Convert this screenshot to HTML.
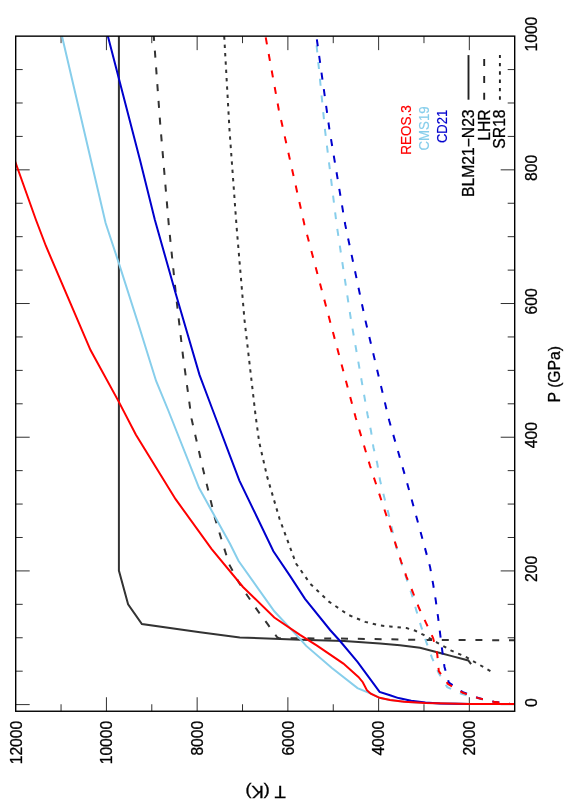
<!DOCTYPE html>
<html><head><meta charset="utf-8"><title>T-P chart</title>
<style>
html,body{margin:0;padding:0;background:#fff;}
body{width:565px;height:807px;overflow:hidden;font-family:"Liberation Sans",sans-serif;}
svg{display:block;will-change:transform;}
text{font-family:"Liberation Sans",sans-serif;font-size:15.7px;fill:#000;stroke:#000;stroke-width:0.3px;}
</style></head><body>
<svg width="565" height="807" viewBox="0 0 565 807">
<rect x="0" y="0" width="565" height="807" fill="#fff"/>

<path d="M469.34 711.25 v-14.00 M469.34 36.15 v14.00 M423.97 711.25 v-7.00 M423.97 36.15 v7.00 M378.61 711.25 v-14.00 M378.61 36.15 v14.00 M333.25 711.25 v-7.00 M333.25 36.15 v7.00 M287.88 711.25 v-14.00 M287.88 36.15 v14.00 M242.52 711.25 v-7.00 M242.52 36.15 v7.00 M197.15 711.25 v-14.00 M197.15 36.15 v14.00 M151.79 711.25 v-7.00 M151.79 36.15 v7.00 M106.43 711.25 v-14.00 M106.43 36.15 v14.00 M61.06 711.25 v-7.00 M61.06 36.15 v7.00 M514.70 704.60 h-14.00 M15.70 704.60 h14.00 M514.70 671.18 h-7.00 M15.70 671.18 h7.00 M514.70 637.75 h-7.00 M15.70 637.75 h7.00 M514.70 604.33 h-7.00 M15.70 604.33 h7.00 M514.70 570.91 h-14.00 M15.70 570.91 h14.00 M514.70 537.49 h-7.00 M15.70 537.49 h7.00 M514.70 504.06 h-7.00 M15.70 504.06 h7.00 M514.70 470.64 h-7.00 M15.70 470.64 h7.00 M514.70 437.22 h-14.00 M15.70 437.22 h14.00 M514.70 403.80 h-7.00 M15.70 403.80 h7.00 M514.70 370.38 h-7.00 M15.70 370.38 h7.00 M514.70 336.95 h-7.00 M15.70 336.95 h7.00 M514.70 303.53 h-14.00 M15.70 303.53 h14.00 M514.70 270.11 h-7.00 M15.70 270.11 h7.00 M514.70 236.68 h-7.00 M15.70 236.68 h7.00 M514.70 203.26 h-7.00 M15.70 203.26 h7.00 M514.70 169.84 h-14.00 M15.70 169.84 h14.00 M514.70 136.42 h-7.00 M15.70 136.42 h7.00 M514.70 102.99 h-7.00 M15.70 102.99 h7.00 M514.70 69.57 h-7.00 M15.70 69.57 h7.00" stroke="#1a1a1a" stroke-width="0.9" fill="none"/>
<defs><clipPath id="c"><rect x="15.7" y="36.1" width="499.0" height="675.1"/></clipPath></defs>
<g clip-path="url(#c)">
<path d="M471.1 664.2 L468.3 660.5 L450.0 655.6 L442.0 653.5 L420.0 647.8 L400.0 645.2 L380.0 643.4 L344.0 640.9 L300.0 639.7 L239.8 637.5 L200.0 632.3 L141.9 624.1 L128.1 604.2 L118.9 570.6 L118.9 30.0" stroke="#333333" stroke-width="2.0" fill="none" stroke-linejoin="miter" stroke-miterlimit="3"/>
<path d="M516.0 640.2 L430.0 640.0 L340.0 638.5 L290.0 638.3 L279.0 638.3 L277.0 637.0 L267.3 623.7 L257.5 610.4 L247.8 596.3 L238.1 581.2 L229.2 564.4 L215.2 519.0 L203.0 469.0 L191.6 419.0 L183.0 356.0 L175.9 294.3 L168.8 225.0 L160.3 125.0 L153.8 36.2 L153.4 30.0" stroke="#333333" stroke-width="2.0" fill="none" stroke-dasharray="7 9.8" stroke-linejoin="miter" stroke-miterlimit="3"/>
<path d="M490.4 671.2 L466.7 657.3 L450.8 650.3 L436.6 642.3 L424.2 635.2 L415.4 630.8 L406.5 628.1 L390.0 626.4 L380.0 625.5 L365.2 621.9 L348.4 614.9 L328.9 601.6 L310.4 583.9 L296.0 563.5 L279.6 519.0 L267.2 476.9 L259.2 442.2 L255.5 415.0 L244.5 320.0 L236.6 227.0 L229.5 130.0 L224.2 36.2 L223.9 30.0" stroke="#333333" stroke-width="2.0" fill="none" stroke-dasharray="3.4 4.95" stroke-linejoin="miter" stroke-miterlimit="3"/>
<path d="M516.0 704.1 L470.0 704.1 L425.4 703.1 L404.2 701.8 L390.0 700.0 L379.6 697.9 L370.8 693.6 L357.5 688.1 L331.9 668.1 L306.2 645.9 L300.0 638.8 L274.3 611.3 L238.6 561.0 L230.0 543.8 L199.1 488.0 L168.1 410.0 L156.1 381.0 L139.5 327.8 L118.5 262.1 L105.6 223.0 L62.0 36.2 L60.5 30.0" stroke="#87ceeb" stroke-width="2.0" fill="none" stroke-linejoin="miter" stroke-miterlimit="3"/>
<path d="M516.0 704.0 L510.0 703.9 L495.3 702.2 L478.3 698.4 L461.5 693.8 L447.3 687.1 L438.8 673.4 L432.0 657.8 L426.4 642.3 L421.1 626.4 L416.3 610.4 L411.5 593.6 L406.2 577.7 L401.0 562.0 L395.7 545.0 L392.0 528.9 L388.3 512.8 L384.1 496.7 L380.1 480.6 L377.2 463.3 L373.4 447.2 L371.0 431.0 L367.6 415.0 L351.0 320.0 L336.7 225.0 L325.0 130.0 L315.7 36.2 L315.2 30.0" stroke="#87ceeb" stroke-width="2.0" fill="none" stroke-dasharray="7 9.8" stroke-linejoin="miter" stroke-miterlimit="3"/>
<path d="M516.0 704.1 L470.0 704.1 L440.0 703.5 L425.4 702.4 L411.2 700.7 L398.5 698.1 L390.0 695.3 L379.6 691.9 L357.5 661.9 L339.6 640.5 L330.1 630.0 L305.0 598.9 L290.0 575.9 L273.4 551.2 L239.4 480.6 L230.0 455.8 L212.7 410.0 L199.5 374.9 L175.9 294.3 L154.9 220.0 L140.0 160.1 L107.9 36.2 L106.4 30.0" stroke="#0000cd" stroke-width="2.0" fill="none" stroke-linejoin="miter" stroke-miterlimit="3"/>
<path d="M516.0 704.0 L510.0 703.9 L495.3 702.1 L478.3 698.0 L462.9 692.2 L448.8 682.6 L444.5 667.0 L442.3 651.2 L440.2 634.3 L438.1 617.5 L435.8 600.7 L433.1 583.9 L430.1 567.1 L421.8 536.4 L406.0 479.0 L389.2 420.6 L365.3 320.0 L345.3 225.0 L329.5 130.0 L316.4 36.2 L315.6 30.0" stroke="#0000cd" stroke-width="2.0" fill="none" stroke-dasharray="7 9.8" stroke-linejoin="miter" stroke-miterlimit="3"/>
<path d="M516.0 704.1 L470.0 704.1 L425.4 703.1 L404.2 701.7 L390.0 699.9 L379.6 697.8 L370.8 693.7 L366.9 690.2 L362.8 682.2 L358.4 676.9 L343.4 663.6 L317.0 645.6 L300.0 634.8 L274.3 617.5 L243.0 587.0 L211.5 548.8 L175.6 499.2 L135.9 434.8 L119.0 402.1 L90.5 350.1 L45.9 246.0 L36.0 220.0 L15.7 163.1 L10.0 147.0" stroke="#ff0000" stroke-width="2.0" fill="none" stroke-linejoin="miter" stroke-miterlimit="3"/>
<path d="M516.0 704.0 L510.0 703.9 L495.3 702.1 L478.3 698.1 L462.8 692.8 L448.0 684.0 L438.8 671.2 L437.3 654.5 L433.1 638.0 L426.0 622.8 L418.9 607.8 L412.7 591.9 L406.5 576.8 L401.2 561.8 L390.8 528.9 L370.0 465.7 L355.8 418.0 L329.7 320.0 L304.5 225.0 L278.7 109.3 L265.5 36.2 L264.5 30.0" stroke="#ff0000" stroke-width="2.0" fill="none" stroke-dasharray="7 9.8" stroke-linejoin="miter" stroke-miterlimit="3"/>
</g>
<rect x="15.70" y="36.15" width="499.00" height="675.10" fill="none" stroke="#000" stroke-width="1.4"/>
<text transform="translate(475.14 720.70) rotate(-90)" text-anchor="end">2000</text>
<text transform="translate(384.41 720.70) rotate(-90)" text-anchor="end">4000</text>
<text transform="translate(293.68 720.70) rotate(-90)" text-anchor="end">6000</text>
<text transform="translate(202.95 720.70) rotate(-90)" text-anchor="end">8000</text>
<text transform="translate(112.23 720.70) rotate(-90)" text-anchor="end">10000</text>
<text transform="translate(21.50 720.70) rotate(-90)" text-anchor="end">12000</text>
<text transform="translate(536.80 702.55) rotate(-90)" text-anchor="middle">0</text>
<text transform="translate(536.80 568.86) rotate(-90)" text-anchor="middle">200</text>
<text transform="translate(536.80 435.17) rotate(-90)" text-anchor="middle">400</text>
<text transform="translate(536.80 301.48) rotate(-90)" text-anchor="middle">600</text>
<text transform="translate(536.80 167.79) rotate(-90)" text-anchor="middle">800</text>
<text transform="translate(536.80 34.10) rotate(-90)" text-anchor="middle">1000</text>
<text transform="translate(559.50 374.20) rotate(-90)" text-anchor="middle">P (GPa)</text>
<text transform="translate(265.50 786.20) rotate(180) scale(1.167 1)" text-anchor="middle">T (K)</text>
<text transform="translate(411.00 130.00) rotate(-90) scale(1 1.1)" text-anchor="middle" style="fill:#ff0000;stroke:#ff0000;stroke-width:0.15px;font-size:13.5px">REOS.3</text>
<text transform="translate(429.00 128.40) rotate(-90) scale(1 1.1)" text-anchor="middle" style="fill:#87ceeb;stroke:#87ceeb;stroke-width:0.15px;font-size:13.25px">CMS19</text>
<text transform="translate(447.10 126.50) rotate(-90) scale(1 1.1)" text-anchor="middle" style="fill:#0000cd;stroke:#0000cd;stroke-width:0.15px;font-size:13.0px">CD21</text>
<text transform="translate(474.00 109.40) rotate(-90)" text-anchor="end">BLM21−N23</text>
<path d="M468.5 99.7 L468.5 55.1" stroke="#222" stroke-width="1.9" fill="none" stroke-linejoin="miter" stroke-miterlimit="3"/>
<text transform="translate(489.70 109.40) rotate(-90)" text-anchor="end">LHR</text>
<path d="M484.2 99.7 L484.2 55.1" stroke="#222" stroke-width="1.9" fill="none" stroke-dasharray="7 9.8" stroke-linejoin="miter" stroke-miterlimit="3"/>
<text transform="translate(505.40 109.40) rotate(-90)" text-anchor="end">SR18</text>
<path d="M499.9 99.7 L499.9 55.1" stroke="#222" stroke-width="1.9" fill="none" stroke-dasharray="3.4 4.95" stroke-linejoin="miter" stroke-miterlimit="3"/>
</svg></body></html>
